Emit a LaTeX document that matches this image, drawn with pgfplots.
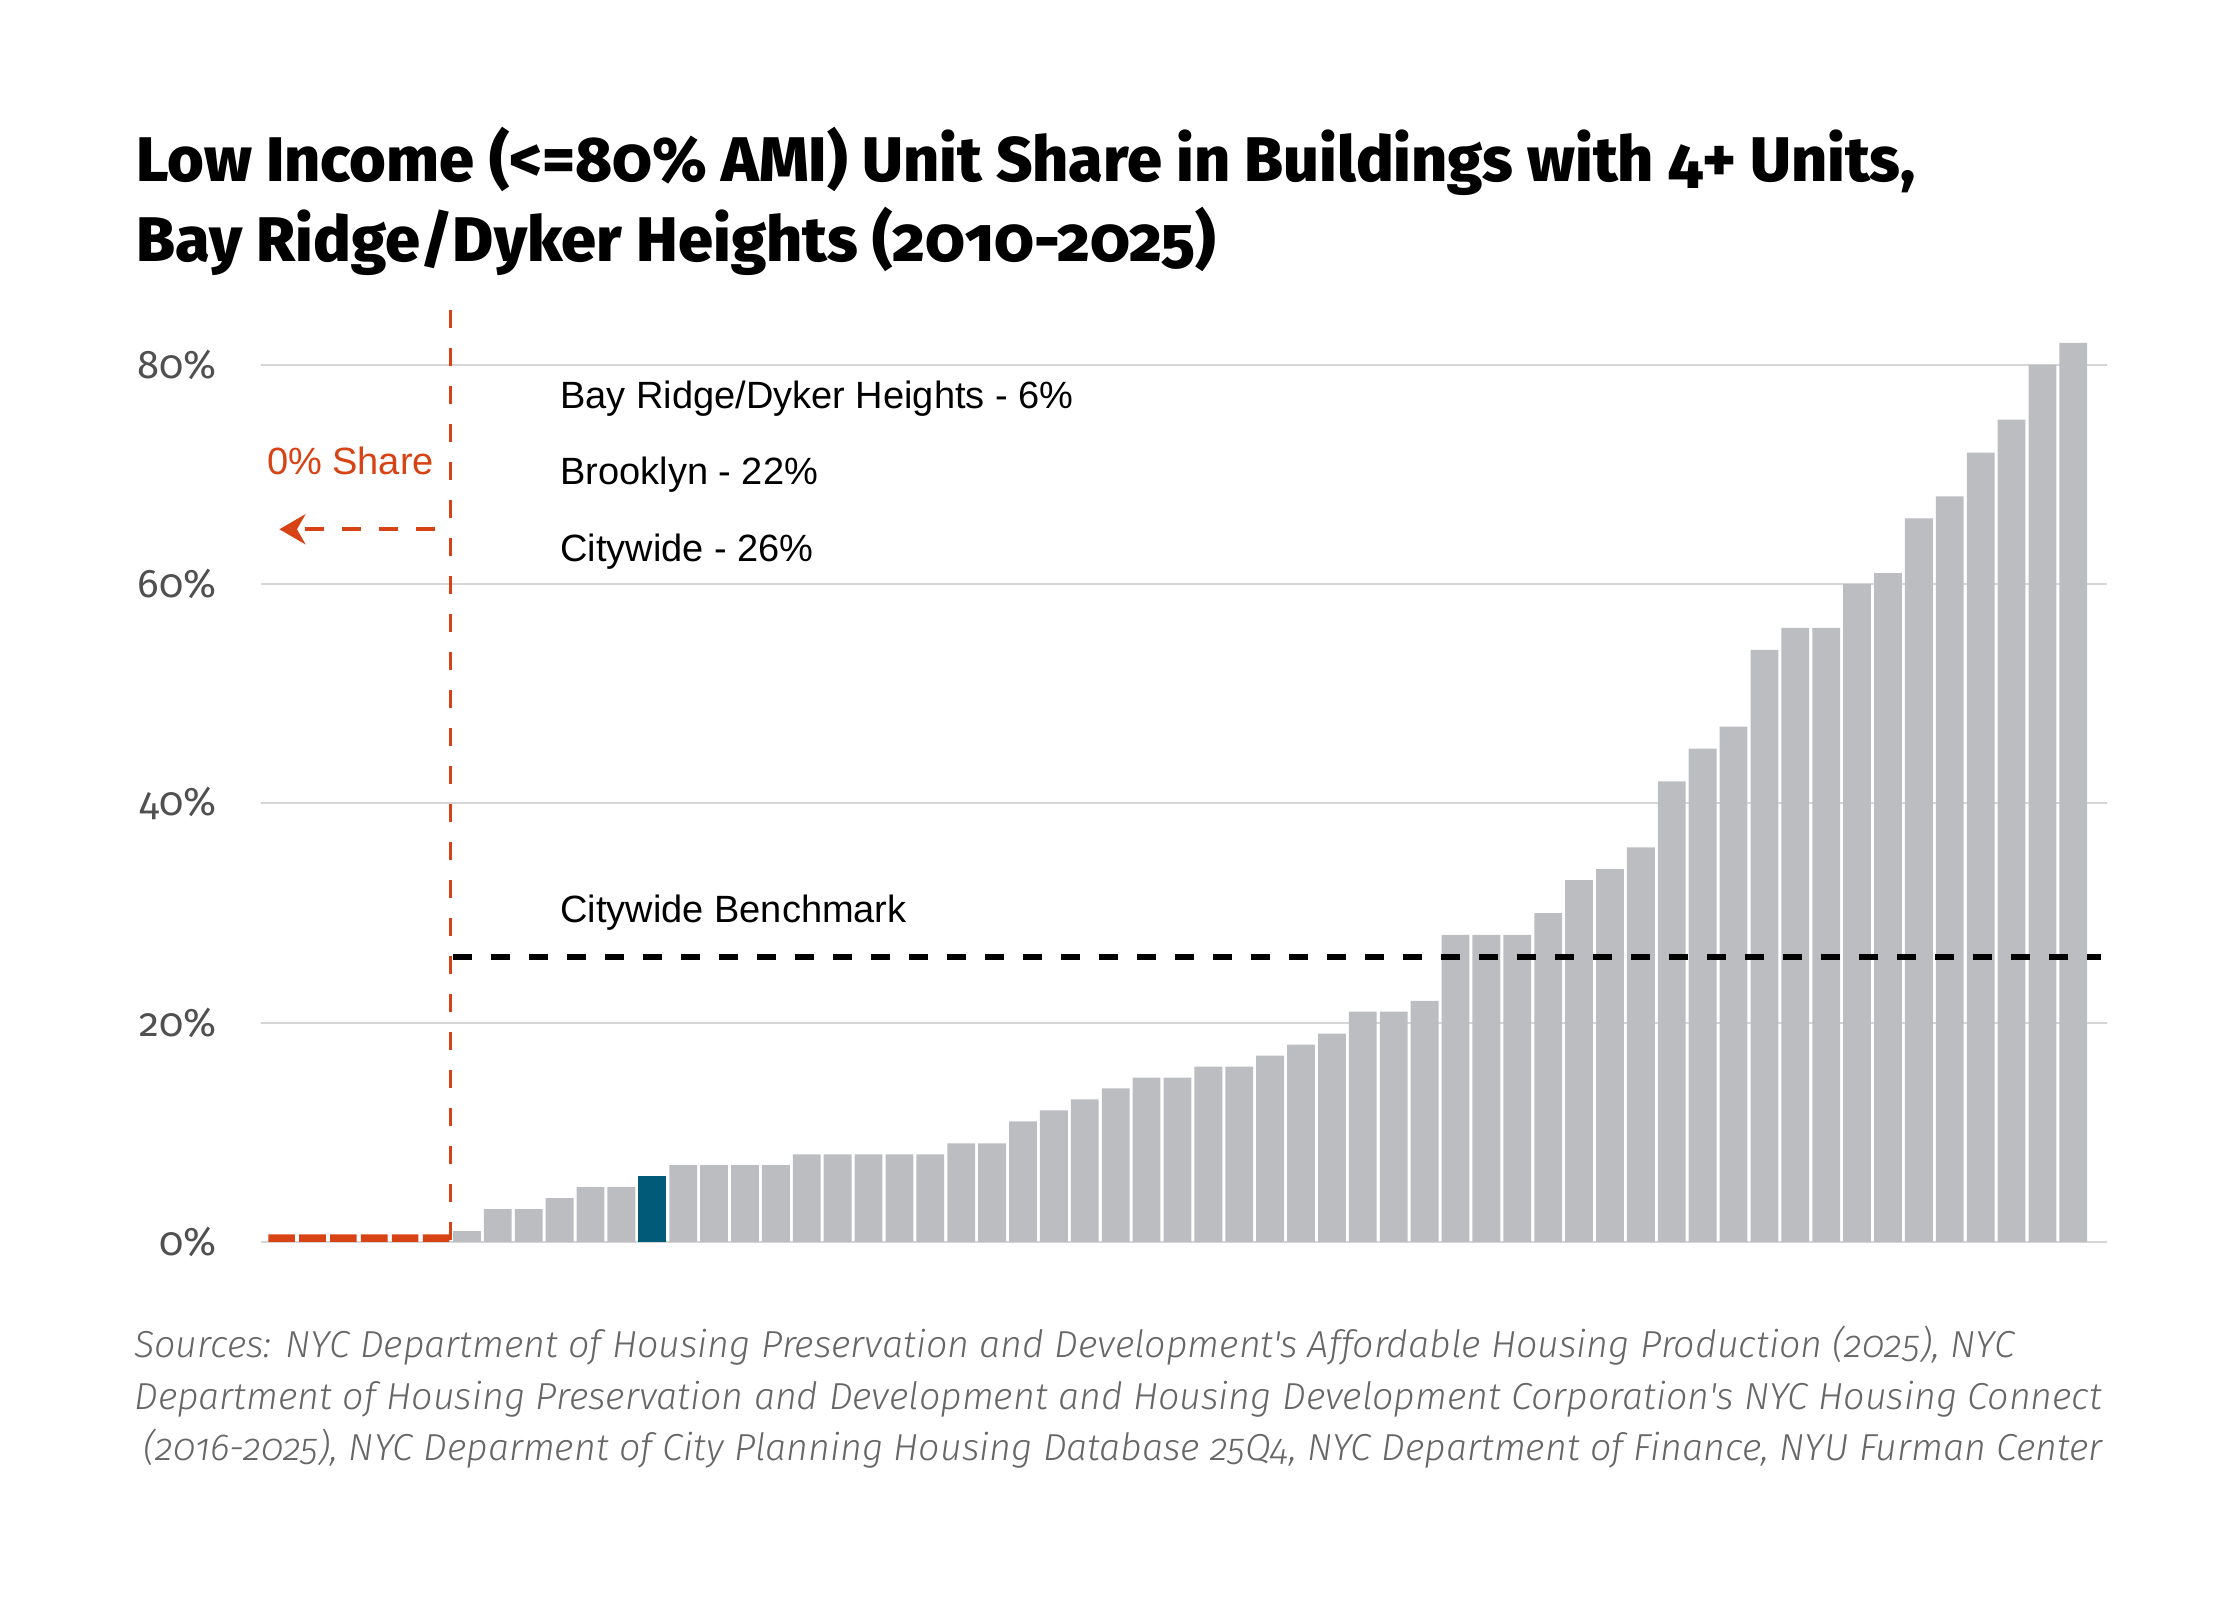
\documentclass[border=0pt]{standalone}
\usepackage{fontspec}
\setmainfont{Liberation Sans}
\newfontfamily\titlefont{Fira Sans ExtraBold}[Numbers=OldStyle]
\newfontfamily\tickfont{Fira Sans}[Numbers=OldStyle]
\newfontfamily\srcfont{Fira Sans Light}[Numbers=OldStyle]
\usepackage{pgfplots}
\pgfplotsset{compat=1.18}
\usepackage{pgfplotstable}
\usetikzlibrary{arrows.meta}
\definecolor{bargray}{HTML}{BCBDC1}
\definecolor{barblue}{HTML}{005A78}
\definecolor{accred}{HTML}{D84315}
\definecolor{gridgray}{HTML}{D6D6D6}
\definecolor{tickgray}{HTML}{505050}
\definecolor{srcgray}{HTML}{666666}

\pgfplotstableread{
x y
1 1
2 3
3 3
4 4
5 5
6 5
8 7
9 7
10 7
11 7
12 8
13 8
14 8
15 8
16 8
17 9
18 9
19 11
20 12
21 13
22 14
23 15
24 15
25 16
26 16
27 17
28 18
29 19
30 21
31 21
32 22
33 28
34 28
35 28
36 30
37 33
38 34
39 36
40 42
41 45
42 47
43 54
44 56
45 56
46 60
47 61
48 66
49 68
50 72
51 75
52 80
53 82
}\graytable
\pgfplotstableread{
x y
7 6
}\bluetable
\pgfplotstableread{
x y
-5 0.7
-4 0.7
-3 0.7
-2 0.7
-1 0.7
0 0.7
}\redtable

\begin{document}
\begin{tikzpicture}
\useasboundingbox (0pt,0pt) rectangle (1120pt,800pt);
\begin{axis}[
  at={(130.5pt,179pt)}, anchor=south west,
  scale only axis, width=923pt, height=466pt,
  xmin=-5.666, xmax=54.09, ymin=0, ymax=85,
  clip=false,
  axis line style={draw=none},
  tick style={draw=none},
  xtick=\empty,
  ytick={0,20,40,60,80},
  yticklabels={0\%,20\%,40\%,60\%,80\%},
  yticklabel style={anchor=east, inner sep=0pt, xshift=-22pt, font=\tickfont\fontsize{20}{20}\selectfont, text=tickgray},
  ymajorgrids, grid style={gridgray, line width=1pt},
]
\addplot[ybar, bar width=0.9, bar shift=0pt, fill=bargray, draw=none] table[x=x,y=y] {\graytable};
\addplot[ybar, bar width=0.9, bar shift=0pt, fill=barblue, draw=none] table[x=x,y=y] {\bluetable};
\addplot[ybar, bar width=0.86, bar shift=0pt, fill=accred, draw=none] table[x=x,y=y] {\redtable};
\addplot[accred, line width=1.9pt, dash pattern=on 9pt off 10pt, mark=none] coordinates {(0.47,85) (0.47,0)};
\addplot[accred, line width=2.15pt, dash pattern=on 9.5pt off 9pt, mark=none, -{Stealth[length=13pt,width=15pt]}] coordinates {(-0.03,65) (-5.07,65)};
\addplot[black, line width=2.6pt, dash pattern=on 9.7pt off 9.3pt, mark=none] coordinates {(0.55,26) (53.9,26)};
\node[anchor=base west, inner sep=0pt, font=\fontsize{19}{19}\selectfont] at (axis cs:4.01,76.03) {Bay Ridge/Dyker Heights - 6\%};
\node[anchor=base west, inner sep=0pt, font=\fontsize{19}{19}\selectfont] at (axis cs:4.01,69.04) {Brooklyn - 22\%};
\node[anchor=base west, inner sep=0pt, font=\fontsize{19}{19}\selectfont] at (axis cs:4.01,62.1) {Citywide - 26\%};
\node[anchor=base west, inner sep=0pt, font=\fontsize{19}{19}\selectfont] at (axis cs:4.01,29.1) {Citywide Benchmark};
\node[anchor=base, inner sep=0pt, text=accred, font=\fontsize{19}{19}\selectfont] at (axis cs:-2.77,70.04) {0\% Share};
\end{axis}
\node[anchor=base west, inner sep=0pt, font=\titlefont\fontsize{31.5}{31.5}\selectfont] at (68pt,709pt) {Low Income (<=80\% AMI) Unit Share in Buildings with 4+ Units,};
\node[anchor=base west, inner sep=0pt, font=\titlefont\fontsize{31.5}{31.5}\selectfont] at (68pt,669pt) {Bay Ridge/Dyker Heights (2010-2025)};
\node[anchor=base west, inner sep=0pt, text=srcgray, font=\srcfont\itshape\fontsize{18.8}{18.8}\selectfont] at (67pt,121pt) {Sources: NYC Department of Housing Preservation and Development's Affordable Housing Production (2025), NYC};
\node[anchor=base west, inner sep=0pt, text=srcgray, font=\srcfont\itshape\fontsize{18.8}{18.8}\selectfont] at (67pt,95.2pt) {Department of Housing Preservation and Development and Housing Development Corporation's NYC Housing Connect};
\node[anchor=base west, inner sep=0pt, text=srcgray, font=\srcfont\itshape\fontsize{18.8}{18.8}\selectfont] at (71.5pt,69.5pt) {(2016-2025), NYC Deparment of City Planning Housing Database 25Q4, NYC Department of Finance, NYU Furman Center};
\end{tikzpicture}
\end{document}
